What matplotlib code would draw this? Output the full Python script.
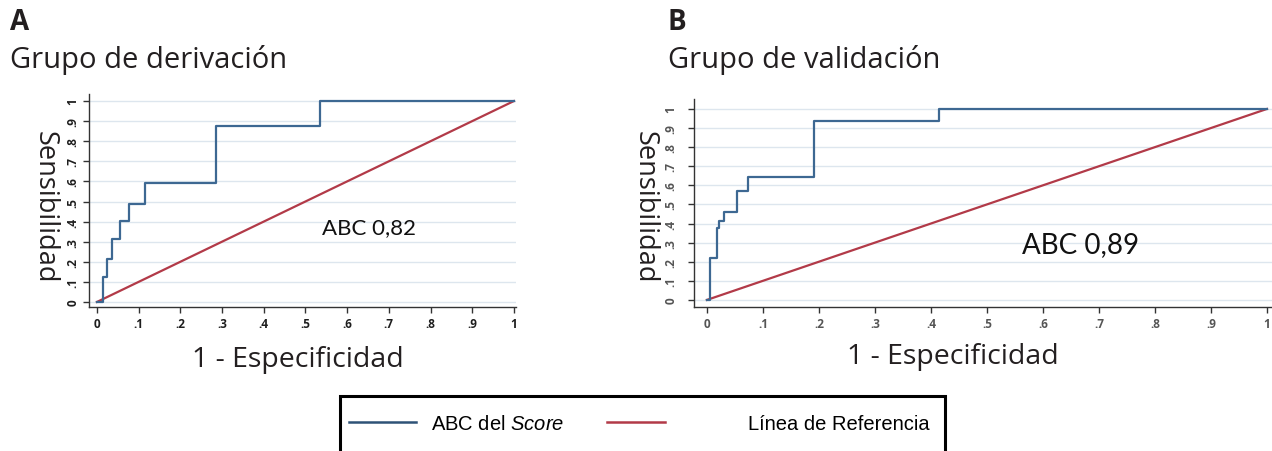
import matplotlib
matplotlib.use("Agg")
import matplotlib.pyplot as plt
from matplotlib.lines import Line2D
from matplotlib.patches import Rectangle

# ---------------- data ----------------
ticks = [0, 0.1, 0.2, 0.3, 0.4, 0.5, 0.6, 0.7, 0.8, 0.9, 1.0]
tick_labels = ["0", ".1", ".2", ".3", ".4", ".5", ".6", ".7", ".8", ".9", "1"]

fpr_a = [0, 0.014, 0.025, 0.037, 0.056, 0.077, 0.116, 0.285, 0.534, 1.0]
tpr_a = [0, 0.125, 0.216, 0.313, 0.404, 0.488, 0.591, 0.874, 1.0, 1.0]

fpr_b = [0, 0.005, 0.018, 0.022, 0.030, 0.054, 0.074, 0.192, 0.415, 1.0]
tpr_b = [0, 0.222, 0.379, 0.414, 0.458, 0.572, 0.645, 0.935, 1.0, 1.0]

ref_x = [0, 1]
ref_y = [0, 1]

auc_a = "ABC 0,82"
auc_b = "ABC 0,89"
panel_letters = ["A", "B"]
panel_titles = ["Grupo de derivación", "Grupo de validación"]
xlabel = "1 - Especificidad"
ylabel = "Sensibilidad"
legend_labels = ["ABC del $\\mathit{Score}$", "Línea de Referencia"]

# ---------------- style ----------------
W, H = 1272, 452
plt.rcParams['font.family'] = ['Open Sans', 'DejaVu Sans']
plt.rcParams['mathtext.fontset'] = 'custom'
plt.rcParams['mathtext.rm'] = 'Liberation Sans'
plt.rcParams['mathtext.it'] = 'Liberation Sans:italic'

BLUE = '#3d6892'
BLUE_LEG = '#2e5277'
RED = '#b23a48'
GRID = '#dde6ee'
TXT = '#231f20'

fig = plt.figure(figsize=(W / 100, H / 100), dpi=100)


def px_ax(l, r, top, bot):
    return [l / W, (H - bot) / H, (r - l) / W, (bot - top) / H]


axes_spec = [
    dict(rect=px_ax(89, 516, 95, 308), xlim=(-0.019, 1.005), ylim=(-0.025, 1.035),
         fpr=fpr_a, tpr=tpr_a, auc=auc_a, auc_pos=(0.546, 0.375), auc_size=16,
         tickcol='#1e1e1e', ylab=(-0.103, 0.474), xlab=(0.489, -0.244), ypad=3),
    dict(rect=px_ax(694, 1272, 100, 308), xlim=(-0.023, 1.009), ylim=(-0.037, 1.052),
         fpr=fpr_b, tpr=tpr_b, auc=auc_b, auc_pos=(0.567, 0.303), auc_size=20,
         tickcol='#555555', ylab=(-0.085, 0.486), xlab=(0.448, -0.236), ypad=8),
]

title_x = [10, 668]

for i, spec in enumerate(axes_spec):
    ax = fig.add_axes(spec['rect'])
    ax.set_xlim(*spec['xlim'])
    ax.set_ylim(*spec['ylim'])
    for t in ticks:
        ax.axhline(t, color=GRID, lw=1.0, zorder=0)
    ax.plot(ref_x, ref_y, color=RED, lw=1.6, zorder=2)
    ax.plot(spec['fpr'], spec['tpr'], color=BLUE, lw=1.6, drawstyle='steps-post', zorder=3)
    ax.spines['top'].set_visible(False)
    ax.spines['right'].set_visible(False)
    for s in ('left', 'bottom'):
        ax.spines[s].set_color('#333333')
        ax.spines[s].set_linewidth(1.0)
    ax.set_xticks(ticks)
    ax.set_xticklabels(tick_labels)
    ax.set_yticks(ticks)
    ax.set_yticklabels(tick_labels)
    ax.tick_params(axis='both', direction='out', length=4, width=1, color='#333333',
                   labelsize=8.5, labelcolor=spec['tickcol'])
    ax.tick_params(axis='y', labelrotation=90, pad=spec['ypad'])
    for lab in ax.get_yticklabels():
        lab.set_va('center')
        lab.set_fontweight('bold')
    for lab in ax.get_xticklabels():
        lab.set_fontweight('bold')
    ax.text(*spec['auc_pos'], spec['auc'], transform=ax.transAxes, fontsize=spec['auc_size'],
            family=['Lato', 'DejaVu Sans'], color='#111111', ha='left', va='center')
    ax.set_ylabel(ylabel, rotation=270, fontsize=19.5, color=TXT, va='center', ha='center')
    ax.yaxis.set_label_coords(*spec['ylab'])
    ax.set_xlabel(xlabel, fontsize=20.5, color=TXT, va='center', ha='center')
    ax.xaxis.set_label_coords(*spec['xlab'])

    fig.text(title_x[i] / W, 1 - 22 / H, panel_letters[i], fontsize=20, fontweight='bold',
             color=TXT, ha='left', va='center')
    fig.text(title_x[i] / W, 1 - 60 / H, panel_titles[i], fontsize=21,
             color=TXT, ha='left', va='center')

# legend frame
fig.patches.append(Rectangle((340 / W, -0.05), 605 / W, (H - 397) / H + 0.05,
                             transform=fig.transFigure, fill=False, edgecolor='black',
                             linewidth=2.2))
leg_font = dict(family=['Liberation Sans', 'DejaVu Sans'], size=14.5)
h1 = Line2D([], [], color=BLUE_LEG, lw=1.8)
h2 = Line2D([], [], color=RED, lw=1.8)
l1 = fig.legend([h1], [legend_labels[0]], loc='center left',
                bbox_to_anchor=(343 / W, 1 - 425 / H), frameon=False, prop=leg_font,
                handlelength=3.3, handletextpad=0.75, borderpad=0.0, borderaxespad=0.3)
l2 = fig.legend([h2], [legend_labels[1]], loc='center left',
                bbox_to_anchor=(601 / W, 1 - 425 / H), frameon=False, prop=leg_font,
                handlelength=2.9, handletextpad=4.1, borderpad=0.0, borderaxespad=0.3)
for lg in (l1, l2):
    for t in lg.get_texts():
        t.set_color('black')

fig.savefig('out.png', dpi=100)
